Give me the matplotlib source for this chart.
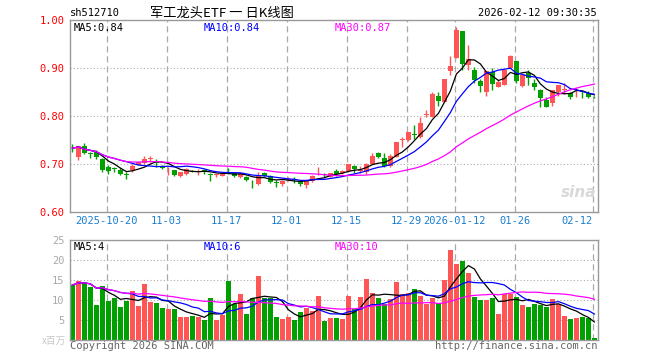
import matplotlib.pyplot as plt
import numpy as np
import pandas as pd

symbol = "sh512710"
title = "军工龙头ETF 一 日K线图"
stamp = "2026-02-12 09:30:35"

# daily bars, 2025-10-10 .. 2026-02-12
opens = [0.734, 0.714, 0.7375, 0.722, 0.724, 0.710, 0.694, 0.691, 0.6875, 0.679,
         0.6875, 0.698, 0.7014, 0.711, 0.704, 0.696, 0.689, 0.6875, 0.674, 0.680,
         0.685, 0.685, 0.6875, 0.678, 0.677, 0.676, 0.6854, 0.6806, 0.6736, 0.6736,
         0.661, 0.658, 0.6806, 0.674, 0.662, 0.658, 0.667, 0.667, 0.6646, 0.656,
         0.6646, 0.679, 0.678, 0.6736, 0.6847, 0.681, 0.6847, 0.6958, 0.686, 0.683,
         0.701, 0.7222, 0.7125, 0.6958, 0.7153, 0.750, 0.750, 0.7615, 0.7556, 0.802,
         0.7986, 0.8417, 0.8299, 0.8938, 0.920, 0.977, 0.906, 0.896, 0.873, 0.850,
         0.892, 0.861, 0.8646, 0.8993, 0.9146, 0.8625, 0.8896, 0.868, 0.854, 0.8333,
         0.8278, 0.851, 0.855, 0.8472, 0.849, 0.852, 0.8486, 0.840]
highs = [0.742, 0.738, 0.743, 0.726, 0.729, 0.712, 0.698, 0.694, 0.691, 0.684,
         0.699, 0.705, 0.717, 0.717, 0.710, 0.698, 0.694, 0.688, 0.684, 0.692,
         0.688, 0.690, 0.689, 0.682, 0.680, 0.681, 0.692, 0.683, 0.682, 0.676,
         0.667, 0.683, 0.684, 0.678, 0.666, 0.667, 0.673, 0.672, 0.667, 0.667,
         0.677, 0.694, 0.682, 0.682, 0.689, 0.688, 0.700, 0.697, 0.696, 0.703,
         0.722, 0.724, 0.722, 0.720, 0.7465, 0.757, 0.7674, 0.781, 0.7986, 0.8125,
         0.849, 0.849, 0.8771, 0.925, 0.986, 0.977, 0.948, 0.903, 0.878, 0.894,
         0.900, 0.875, 0.8958, 0.928, 0.9146, 0.885, 0.895, 0.878, 0.857, 0.840,
         0.8542, 0.8646, 0.868, 0.850, 0.858, 0.852, 0.852, 0.841]
lows = [0.726, 0.708, 0.720, 0.712, 0.710, 0.684, 0.680, 0.684, 0.677, 0.668,
        0.684, 0.697, 0.700, 0.705, 0.694, 0.690, 0.677, 0.675, 0.672, 0.678,
        0.683, 0.677, 0.680, 0.665, 0.673, 0.674, 0.679, 0.673, 0.671, 0.664,
        0.651, 0.657, 0.674, 0.660, 0.653, 0.655, 0.664, 0.661, 0.655, 0.651,
        0.662, 0.677, 0.672, 0.672, 0.674, 0.680, 0.683, 0.681, 0.681, 0.680,
        0.700, 0.712, 0.693, 0.694, 0.714, 0.736, 0.748, 0.753, 0.755, 0.7986,
        0.798, 0.821, 0.829, 0.885, 0.920, 0.896, 0.896, 0.868, 0.851, 0.842,
        0.854, 0.860, 0.8646, 0.8993, 0.868, 0.861, 0.865, 0.854, 0.8194, 0.819,
        0.820, 0.842, 0.846, 0.835, 0.840, 0.837, 0.838, 0.838]
closes = [0.733, 0.7375, 0.722, 0.721, 0.715, 0.6875, 0.686, 0.690, 0.679, 0.678,
          0.6965, 0.7035, 0.7097, 0.712, 0.703, 0.691, 0.690, 0.677, 0.683, 0.6896,
          0.684, 0.6856, 0.6826, 0.677, 0.678, 0.679, 0.685, 0.675, 0.6806, 0.667,
          0.660, 0.675, 0.6757, 0.6625, 0.661, 0.6646, 0.668, 0.6667, 0.658, 0.6667,
          0.675, 0.680, 0.677, 0.6819, 0.679, 0.686, 0.6993, 0.689, 0.688, 0.701,
          0.7163, 0.7145, 0.6958, 0.7174, 0.7465, 0.7514, 0.7674, 0.7604, 0.7861, 0.803,
          0.8458, 0.8312, 0.8771, 0.9042, 0.979, 0.9076, 0.918, 0.875, 0.8625, 0.894,
          0.867, 0.8715, 0.8958, 0.9257, 0.8729, 0.885, 0.8792, 0.860, 0.837, 0.8194,
          0.8542, 0.8646, 0.857, 0.839, 0.851, 0.851, 0.8403, 0.839]
# volume, millions of shares
volumes = [13.75, 14.8, 14.3, 13.25, 8.75, 13.5, 9.75, 10.6, 8.25, 9.8,
           12.25, 8.5, 14.0, 9.6, 9.25, 8.1, 7.75, 7.75, 5.75, 5.75,
           6.0, 5.75, 5.1, 10.6, 5.1, 6.25, 14.75, 8.9, 11.5, 6.4,
           10.4, 16.0, 10.4, 10.6, 5.75, 5.3, 5.75, 5.1, 7.0, 8.0,
           7.25, 11.0, 4.8, 5.5, 5.5, 5.25, 11.0, 7.75, 10.75, 15.25,
           11.75, 10.6, 8.9, 10.25, 14.5, 11.5, 11.75, 12.75, 11.0, 9.1,
           10.6, 9.2, 15.0, 22.5, 19.0, 19.75, 16.75, 10.75, 10.1, 10.1,
           10.6, 6.5, 11.4, 11.6, 10.75, 8.75, 8.25, 9.0, 8.75, 8.25,
           10.25, 9.0, 6.1, 5.25, 5.6, 5.8, 5.5, 0.4]

holidays = ["2026-01-01", "2026-01-02"]
tick_dates = ["2025-10-20", "2025-11-03", "2025-11-17", "2025-12-01", "2025-12-15",
              "2025-12-29", "2026-01-12", "2026-01-26", "2026-02-12"]
tick_labels = ["2025-10-20", "11-03", "11-17", "12-01", "12-15",
               "12-29", "2026-01-12", "01-26", "02-12"]
price_ticks = [0.60, 0.70, 0.80, 0.90, 1.00]
vol_ticks = [5, 10, 15, 20, 25]
price_ma_text = ["MA5:0.84", "MA10:0.84", "MA30:0.87"]
vol_ma_text = ["MA5:4", "MA10:6", "MA30:10"]

RED = "#ff5555"
GREEN = "#00a000"
MA_COLORS = ["black", "#0000ff", "#ff00ff"]
FRAME = "#999999"
GRID = "#aaaaaa"
MONO = "DejaVu Sans Mono"

days = pd.bdate_range("2025-10-10", "2026-02-12")
days = days[~days.isin(pd.to_datetime(holidays))]
df = pd.DataFrame({"open": opens, "high": highs, "low": lows, "close": closes,
                   "vol": volumes}, index=days)
x = np.arange(len(df))
up = df["close"] >= df["open"]
colors = np.where(up, RED, GREEN)
tick_pos = [days.get_loc(pd.Timestamp(d)) - 0.3 for d in tick_dates]

W, H = 660, 360
fig = plt.figure(figsize=(6.6, 3.6), dpi=100)
fig.patch.set_facecolor("white")
ax = fig.add_axes([70 / W, 1 - 212 / H, 528 / W, 192 / H])
axv = fig.add_axes([70 / W, 1 - 340 / H, 528 / W, 100 / H])

for a in (ax, axv):
    a.set_xlim(-0.4, len(df) - 0.4)
    for s in a.spines.values():
        s.set_color(FRAME)
        s.set_linewidth(1.0)
    a.set_xticks([])
    for t in tick_pos:
        a.axvline(t, color=GRID, lw=0.9, ls=(0, (5, 3)), zorder=0)

# price panel
ax.set_ylim(0.60, 1.00)
for p in price_ticks[1:-1]:
    ax.axhline(p, color=GRID, lw=0.8, ls=(0, (1, 2)), zorder=0)
ax.set_yticks(price_ticks)
ax.set_yticklabels([f"{p:.2f}" for p in price_ticks], family=MONO, fontsize=7.5, color="red")
ax.tick_params(axis="y", length=0, pad=4)

ax.vlines(x, df["low"], df["high"], colors=colors, lw=1.0, zorder=2)
body_lo = np.minimum(df["open"], df["close"])
body_h = np.maximum((df["close"] - df["open"]).abs(), 0.0012)
ax.bar(x, body_h, bottom=body_lo, width=0.8, color=colors, zorder=3)

for n, c in zip([5, 10, 30], MA_COLORS):
    ax.plot(x, df["close"].rolling(n, min_periods=1).mean(), color=c, lw=0.9, zorder=4)

for txt, c, xp in zip(price_ma_text, MA_COLORS, [74, 204, 335]):
    ax.text((xp - 70) / 528, 0.985, txt, transform=ax.transAxes, color=c,
            family=MONO, fontsize=7.5, va="top", ha="left")
ax.text(0.997, 0.06, "sina", transform=ax.transAxes, color="#d8d8d8", fontsize=11,
        fontweight="bold", style="italic", ha="right", va="bottom", zorder=1)

for t, lab in zip(tick_pos, tick_labels):
    ha = "right" if lab == tick_labels[-1] else "center"
    ax.text(t, -0.02, lab, transform=ax.get_xaxis_transform(), color="#1a7fd0",
            family=MONO, fontsize=7.5, ha=ha, va="top")

# volume panel
axv.set_ylim(0, 25)
for v in vol_ticks[:-1]:
    axv.axhline(v, color=GRID, lw=0.8, ls=(0, (1, 2)), zorder=0)
axv.set_yticks(vol_ticks)
axv.set_yticklabels([str(v) for v in vol_ticks], family=MONO, fontsize=7.5, color="#aaaaaa")
axv.tick_params(axis="y", length=0, pad=4)
axv.bar(x, df["vol"], width=0.82, color=colors, zorder=2)
for n, c in zip([5, 10, 30], MA_COLORS):
    axv.plot(x, df["vol"].rolling(n, min_periods=1).mean(), color=c, lw=0.9, zorder=3)
for txt, c, xp in zip(vol_ma_text, MA_COLORS, [74, 204, 335]):
    axv.text((xp - 70) / 528, 0.975, txt, transform=axv.transAxes, color=c,
             family=MONO, fontsize=7.5, va="top", ha="left")

# header / footer text
fig.text(70 / W, 1 - 13 / H, symbol, family=MONO, fontsize=7.5, va="center", ha="left")
fig.text(150 / W, 1 - 13 / H, title, family=["Noto Sans CJK SC", "DejaVu Sans"],
         fontsize=9.5, va="center", ha="left")
fig.text(597 / W, 1 - 13 / H, stamp, family=MONO, fontsize=7.5, va="center", ha="right")
fig.text(66 / W, 1 - 341 / H, "x百万", family=["Noto Sans CJK SC", "DejaVu Sans"],
         fontsize=7, color="#c8c8c8", va="center", ha="right")
fig.text(70 / W, 1 - 346 / H, "Copyright 2026 SINA.COM", family=MONO, fontsize=7.5,
         color="#666666", va="center", ha="left")
fig.text(597 / W, 1 - 346 / H, "http://finance.sina.com.cn", family=MONO, fontsize=7.5,
         color="#666666", va="center", ha="right")

fig.savefig("out.png", dpi=100)
plt.close(fig)
